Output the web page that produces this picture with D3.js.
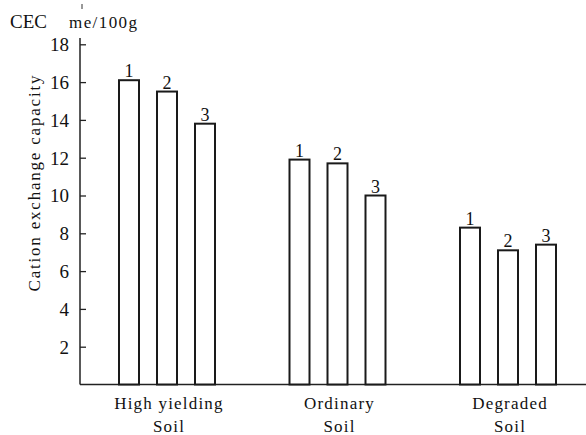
<!DOCTYPE html>
<html>
<head>
<meta charset="utf-8">
<script src="https://cdn.jsdelivr.net/npm/d3@7"></script>
<style>
  html, body { margin: 0; padding: 0; background: #fff; }
  svg { display: block; }
</style>
</head>
<body>
<svg id="chart" width="586" height="435"></svg>
<script>
// ---- data ----
const categories = ["High yielding|Soil", "Ordinary|Soil", "Degraded|Soil"];
const seriesNames = ["1", "2", "3"];
const series1 = [16.1, 11.9, 8.3];
const series2 = [15.5, 11.7, 7.1];
const series3 = [13.8, 10.0, 7.4];
const yTicks = [2, 4, 6, 8, 10, 12, 14, 16, 18];
const yLabel = "Cation exchange capacity";
const unitLeft = "CEC";
const unitRight = "me/100g";

const allSeries = [series1, series2, series3];
const SERIF = "'Liberation Serif', 'Times New Roman', 'DejaVu Serif', serif";

const svg = d3.select("#chart");
const W = 586;
const axisX = 80;

const y = d3.scaleLinear().domain([0, 18]).range([384.5, 44.3]);
const x0 = d3.scalePoint().domain(categories).range([167, 508]).padding(0);
const x1 = d3.scaleBand().domain(seriesNames).range([-57, 57])
  .paddingInner(18 / 38).paddingOuter(9 / 38);

function txt(sel) {
  return sel.attr("font-family", SERIF).style("font-family", SERIF).attr("fill", "#111");
}

// y axis
const yAxis = d3.axisLeft(y).tickValues(yTicks).tickSize(-6).tickPadding(11)
  .tickFormat(d3.format("d"));
const gy = svg.append("g").attr("transform", `translate(${axisX},0)`).call(yAxis);
gy.attr("font-family", SERIF);
gy.select(".domain").remove();
gy.selectAll(".tick line").attr("stroke", "#222").attr("stroke-width", 1.3);
txt(gy.selectAll(".tick text")).attr("font-size", 19).attr("dy", "0.34em");

// axis lines
svg.append("line").attr("x1", axisX).attr("x2", axisX).attr("y1", 38).attr("y2", y(0))
  .attr("stroke", "#222").attr("stroke-width", 1.5);
svg.append("line").attr("x1", axisX).attr("x2", W).attr("y1", y(0)).attr("y2", y(0))
  .attr("stroke", "#222").attr("stroke-width", 1.5);

// bars
const groups = svg.append("g").selectAll("g").data(categories).join("g")
  .attr("transform", d => `translate(${x0(d)},0)`);

groups.each(function (cat, ci) {
  const g = d3.select(this);
  const vals = seriesNames.map((s, si) => ({ s, v: allSeries[si][ci] }));
  g.selectAll("rect").data(vals).join("rect")
    .attr("x", d => x1(d.s))
    .attr("y", d => y(d.v))
    .attr("width", x1.bandwidth())
    .attr("height", d => y(0) - y(d.v))
    .attr("fill", "#fff").attr("stroke", "#1a1a1a").attr("stroke-width", 2);
  txt(g.selectAll("text.num").data(vals).join("text").attr("class", "num"))
    .attr("x", d => x1(d.s) + x1.bandwidth() / 2)
    .attr("y", d => y(d.v) - 3)
    .attr("text-anchor", "middle").attr("font-size", 18)
    .text(d => d.s);
});

// category labels
categories.forEach(c => {
  const [l1, l2] = c.split("|");
  const cx = x0(c) + 2;
  txt(svg.append("text")).attr("x", cx).attr("y", 409).attr("text-anchor", "middle")
    .attr("font-size", 17).attr("letter-spacing", 1.2).text(l1);
  txt(svg.append("text")).attr("x", cx).attr("y", 432).attr("text-anchor", "middle")
    .attr("font-size", 17).attr("letter-spacing", 1.2).text(l2);
});

// y label
txt(svg.append("text"))
  .attr("transform", `translate(40,${183.5}) rotate(-90)`)
  .attr("text-anchor", "middle").attr("font-size", 17)
  .attr("textLength", 216).attr("lengthAdjust", "spacing")
  .text(yLabel);

// unit labels
txt(svg.append("text")).attr("x", 10).attr("y", 28).attr("font-size", 19).text(unitLeft);
txt(svg.append("text")).attr("x", 69).attr("y", 28).attr("font-size", 17)
  .attr("textLength", 68).attr("lengthAdjust", "spacing").text(unitRight);
svg.append("line").attr("x1", 82).attr("x2", 82).attr("y1", 4).attr("y2", 9)
  .attr("stroke", "#333").attr("stroke-width", 1);
</script>
</body>
</html>
